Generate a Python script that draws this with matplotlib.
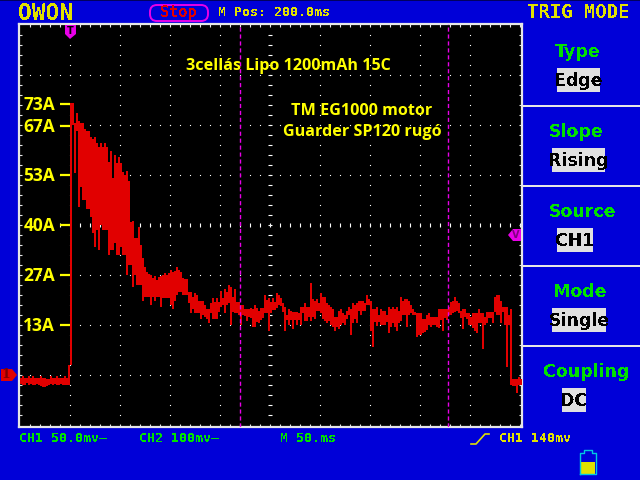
# Oscilloscope screen: motor start-up current, OWON scope capture
import numpy as np
import matplotlib.pyplot as plt
from matplotlib.patches import Rectangle, Polygon, FancyBboxPatch

BLUE = "#0000d8"
RED = "#e10000"
YELLOW = "#ffff00"
SCOPE_YELLOW = "#e0e000"
GREEN = "#00e000"
MAGENTA = "#e800e8"
WHITE = "#e6e6e6"

# Trace, one column every 2 ms, in display rows above the ground marker
baseline_hi = [-3,-1,-3,-3,-1,-3,-1,-3,-3,-3,-1,-3,-3,-4,-4,-1,-3,-3,-1,-3,-3,-3,-1,-3,10]
baseline_lo = [-9,-10,-10,-8,-10,-9,-10,-10,-9,-10,-11,-12,-12,-11,-10,-9,-10,-9,-10,-10,-9,-10,-10,-10,-10]

inrush_hi = [272,272,252,262,254,252,252,246,244,244,238,236,238,232,228,232,228,232,228,213,224,197,220,212,218,212,203,200,204,194,153,154,137,137,148]
inrush_lo = [10,250,202,244,168,188,175,175,166,166,158,142,128,145,125,150,145,145,145,120,125,125,132,120,120,128,120,120,100,110,110,88,100,90,90]

decay_hi = [130,117,108,103,101,100,97,99,95,98,99,100,102,100,102,105,103,104,108,105,103,97,96,96,83]
decay_lo = [90,74,78,78,78,70,78,74,78,78,68,77,77,77,77,70,66,74,80,83,83,80,80,80,72]

run1_hi = [83,78,82,80,74,74,74,70,66,66,72,77,73,77,73,84,77,86,83,90,88,78,86,73,73,70,70,66,66,66,67,66,70,67,64,67,67,80,75,77,73,77,73,82,80,77,72,68,60,66,64,63,63,63,62]
run1_lo = [62,66,62,62,62,56,60,58,56,52,62,56,56,56,63,68,70,62,70,72,50,63,62,62,60,50,60,59,54,58,57,48,48,53,52,55,57,62,62,44,62,65,65,67,70,69,63,44,55,50,55,46,55,50,55]

run2_hi = [68,68,72,68,68,92,76,74,76,72,82,78,78,72,70,68,66,58,58,64,66,62,60,64,68,66,72,70,72,74,74,74,72,80,76,74,66,66,68,60,66,64,64,60,68,66,68,66,68,64,78,74,76,76,74,70,66,63]
run2_lo = [50,62,54,54,58,54,58,56,64,64,62,56,54,52,54,50,48,44,48,46,50,52,50,56,60,40,52,56,52,64,60,64,64,70,70,44,28,53,49,53,50,50,50,53,42,48,52,48,44,52,54,60,60,48,60,62,60,60]

run3_hi = [62,62,62,56,56,60,62,58,58,58,58,66,66,66,66,66,68,73,74,78,74,72,64,66,66,62,62,58,62,62,62,66,62,62,58,63,63,63,63,78,80,80,74,68,68,68,60,66,-4,-4,-4,-2,-4]
run3_lo = [38,40,40,42,43,45,50,48,50,50,48,47,55,44,57,55,60,60,62,63,64,62,57,46,58,56,50,50,47,44,42,52,52,26,50,52,57,57,52,63,60,60,52,63,50,8,50,-10,-11,-11,-18,-10,-10]

current_hi = baseline_hi + inrush_hi + decay_hi + run1_hi + run2_hi + run3_hi
current_lo = baseline_lo + inrush_lo + decay_lo + run1_lo + run2_lo + run3_lo
time_ms = np.arange(len(current_hi)) * 2 - 50

# Hand written current scale
amp_labels = ["13A", "27A", "40A", "53A", "67A", "73A"]
amp_rows = [50, 100, 150, 200, 249, 271]

# Cursors and grid
cursor_ms = [170, 378]
grid_ms = [0, 50, 100, 150, 200, 250, 300, 350, 400]
grid_rows = [0, 50, 100, 150, 200, 250, 300]

menu_titles = ["Type", "Slope", "Source", "Mode", "Coupling"]
menu_values = ["Edge", "Rising", "CH1", "Single", "DC"]

fig = plt.figure(figsize=(6.4, 4.8), dpi=100, facecolor=BLUE)

# scope area, pixels 19..522 across, 24..427 down
ax = fig.add_axes([19 / 640, 1 - 427 / 480, 503 / 640, 403 / 480], facecolor="black")
ax.set_xlim(-51, 452)
ax.set_ylim(-52, 351)
for s in ax.spines.values():
    s.set_color(WHITE)
    s.set_linewidth(1.6)
ax.set_xticks(np.arange(-40, 451, 10))
ax.set_yticks(np.arange(-40, 341, 10))
ax.tick_params(direction="in", length=2.4, width=0.8, color=WHITE, top=True, right=True,
               labelleft=False, labelbottom=False)

# dotted grid
tick_t = np.arange(-40, 451, 10)
tick_r = np.arange(-40, 341, 10)
for g in grid_ms:
    if g != 200:
        ax.plot([g] * len(tick_r), tick_r, ls="", marker="s", ms=0.8, mew=0, color="white", zorder=1)
for r in grid_rows:
    if r != 150:
        ax.plot(tick_t, [r] * len(tick_t), ls="", marker="s", ms=0.8, mew=0, color="white", zorder=1)
ax.plot([200] * len(tick_r), tick_r, ls="", marker="_", ms=2.6, mew=0.8, color="white", zorder=1)
ax.plot(tick_t, [150] * len(tick_t), ls="", marker="|", ms=2.6, mew=0.8, color="white", zorder=1)

# trace
current_hi = np.array(current_hi)
current_lo = np.array(current_lo)
ax.bar(time_ms, current_hi - current_lo, bottom=current_lo, width=2.1, align="edge",
       color=RED, linewidth=0, antialiased=False, zorder=3)

for c in cursor_ms:
    ax.axvline(c, color=MAGENTA, lw=1.0, ls=(0, (3, 2)), zorder=4)

# amp scale
ax.hlines(amp_rows, -10, 0, color=YELLOW, lw=1.6, zorder=4)
for name, r in zip(amp_labels, amp_rows):
    ax.text(-15, r - 1, name, color=YELLOW, fontsize=12.5, family="Open Sans", weight="bold",
            ha="right", va="center", zorder=5)

# everything around the scope, in screen pixels
ov = fig.add_axes([0, 0, 1, 1], facecolor="none")
ov.set_xlim(0, 640)
ov.set_ylim(480, 0)
ov.axis("off")


def scope_text(x, y, s, color, size, ha="left"):
    ov.text(x, y, s, color=color, fontsize=size, family="DejaVu Sans Mono", weight="bold",
            ha=ha, va="center", antialiased=False)


ov.add_patch(Rectangle((0, 0), 640, 1, color="#000060", lw=0))
scope_text(18, 13, "OWON", SCOPE_YELLOW, 16.5)
scope_text(578, 13, "TRIG MODE", SCOPE_YELLOW, 13.6, ha="center")
ov.add_patch(FancyBboxPatch((150, 5), 58, 16, boxstyle="round,pad=0,rounding_size=7",
                            fc="none", ec=MAGENTA, lw=1.4))
scope_text(178, 13, "Stop", "#e00000", 11, ha="center")
scope_text(218, 13, "M Pos: 200.0ms", SCOPE_YELLOW, 9.6)

# annotations typed on the capture
note = dict(color=YELLOW, fontsize=11.6, family="Open Sans", weight="bold", ha="center", va="center")
ov.text(288, 66, "3cellás Lipo 1200mAh 15C", **note)
ov.text(362, 111, "TM EG1000 motor", **note)
ov.text(362, 132.5, "Guarder SP120 rugó", **note)

# right hand menu
for yy in [105, 185, 265, 345]:
    ov.add_patch(Rectangle((522, yy), 118, 2, color=WHITE, lw=0))
menu_x = [578, 576, 582, 580, 586]
box = [(557, 600), (552, 605), (557, 593), (552, 606), (562, 586)]
for i in range(5):
    y0 = 50 + 80 * i
    ov.text(menu_x[i], y0 + 2, menu_titles[i], color=GREEN, fontsize=12.5, family="DejaVu Sans",
            weight="bold", ha="center", va="center", antialiased=False)
    x1, x2 = box[i]
    ov.add_patch(Rectangle((x1, y0 + 18), x2 - x1, 24, color="#e0e0e0", lw=0))
    ov.text((x1 + x2) / 2, y0 + 31, menu_values[i], color="black", fontsize=12.5, family="DejaVu Sans",
            weight="bold", ha="center", va="center", antialiased=False)

# status line
scope_text(19, 438, "CH1 50.0mv\u2013", GREEN, 9.6)
scope_text(139, 438, "CH2 100mv\u2013", GREEN, 9.6)
scope_text(280, 438, "M 50.ms", GREEN, 9.6)
ov.plot([471, 476, 485, 489], [444, 444, 434, 434], color=SCOPE_YELLOW, lw=1.2)
scope_text(499, 438, "CH1 140mv", SCOPE_YELLOW, 9.6)

# battery
ov.add_patch(Rectangle((581, 462), 14, 12, color=SCOPE_YELLOW, lw=0))
ov.plot([580, 580, 584, 584, 592, 592, 596, 596, 580], [474, 453, 453, 450, 450, 453, 453, 474, 474],
        color="#00c8e0", lw=1.0)

# channel and trigger markers
ov.add_patch(Polygon([(1, 369), (12, 369), (17, 375), (12, 381), (1, 381)], color="#e00000", lw=0))
ov.text(6, 375, "1", color="#800000", fontsize=9, family="DejaVu Serif", weight="bold", ha="center", va="center")
ov.add_patch(Polygon([(65, 25), (76, 25), (76, 34), (70, 39), (65, 34)], color=MAGENTA, lw=0))
ov.text(70.5, 31, "T", color="black", fontsize=7, family="DejaVu Sans", weight="bold", ha="center", va="center")
ov.add_patch(Polygon([(508, 235), (513, 229), (521, 229), (521, 241), (513, 241)], color=MAGENTA, lw=0))
ov.text(516, 235, "V", color="#800080", fontsize=7, family="DejaVu Sans", weight="bold", ha="center", va="center")

fig.savefig("out.png", dpi=100, facecolor=BLUE)
